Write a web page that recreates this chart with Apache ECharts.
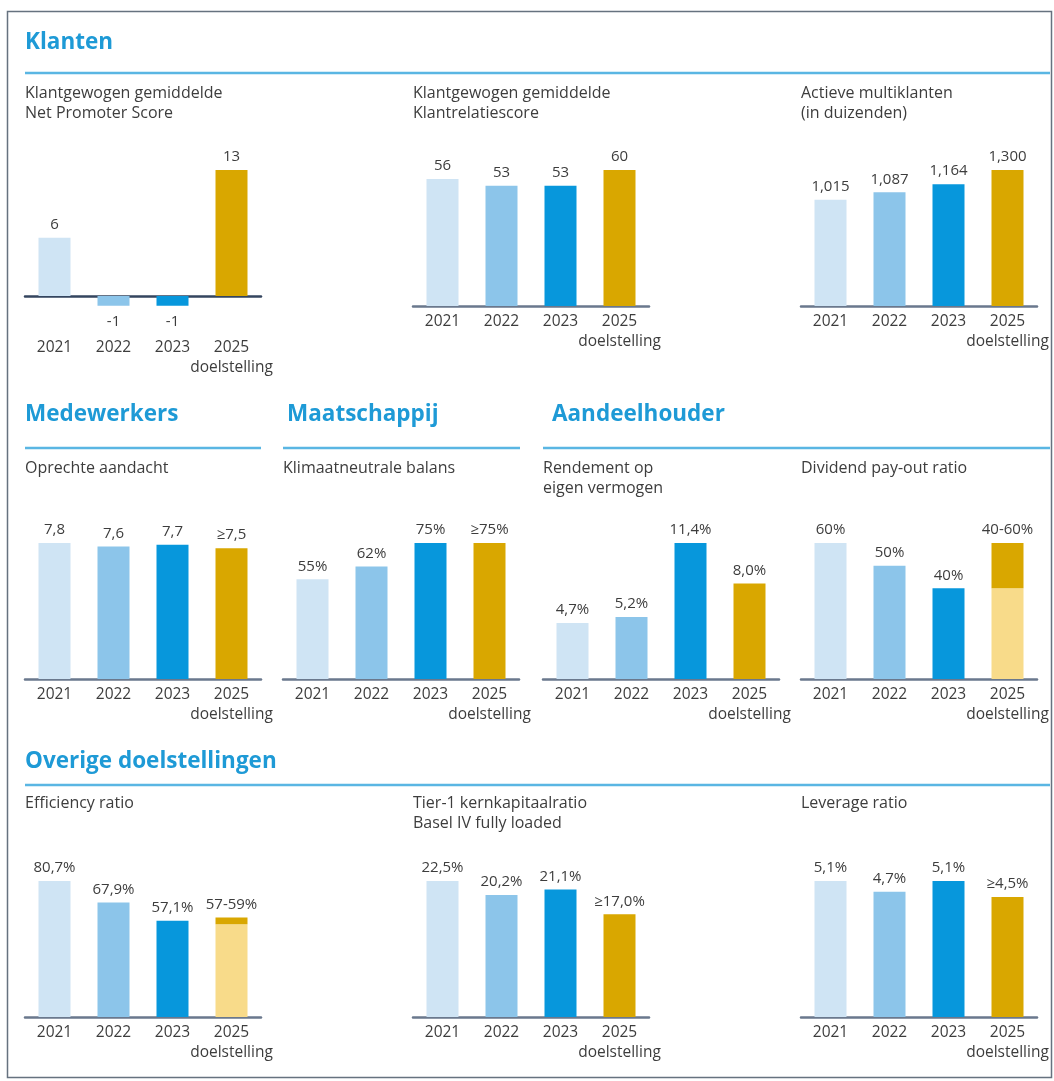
<!DOCTYPE html>
<html>
<head>
<meta charset="utf-8">
<script src="https://cdn.jsdelivr.net/npm/echarts@6/dist/echarts.min.js"></script>
<style>
html,body{margin:0;padding:0;background:#fff;}
#c{width:1054px;height:1081px;}
</style>
</head>
<body>
<div id="c"></div>
<script>
// ---- data ----
const years = ['2021', '2022', '2023', '2025\ndoelstelling'];

const npsValues = [6, -1, -1, 13];
const npsLabels = ['6', '-1', '-1', '13'];

const krsValues = [56, 53, 53, 60];
const krsLabels = ['56', '53', '53', '60'];

const multiValues = [1015, 1087, 1164, 1300];
const multiLabels = ['1,015', '1,087', '1,164', '1,300'];

const aandachtValues = [7.8, 7.6, 7.7, 7.5];
const aandachtLabels = ['7,8', '7,6', '7,7', '≥7,5'];

const klimaatValues = [55, 62, 75, 75];
const klimaatLabels = ['55%', '62%', '75%', '≥75%'];

const roeValues = [4.7, 5.2, 11.4, 8.0];
const roeLabels = ['4,7%', '5,2%', '11,4%', '8,0%'];

const dividendValues = [60, 50, 40, 40];
const dividendRange = [null, null, null, 20];
const dividendLabels = ['60%', '50%', '40%', '40-60%'];

const efficiencyValues = [80.7, 67.9, 57.1, 55];
const efficiencyRange = [null, null, null, 4];
const efficiencyLabels = ['80,7%', '67,9%', '57,1%', '57-59%'];

const tier1Values = [22.5, 20.2, 21.1, 17.0];
const tier1Labels = ['22,5%', '20,2%', '21,1%', '≥17,0%'];

const leverageValues = [5.1, 4.7, 5.1, 4.5];
const leverageLabels = ['5,1%', '4,7%', '5,1%', '≥4,5%'];

// ---- styling ----
const barColors = ['#cfe4f4', '#8cc5ea', '#0797dc', '#d9a700'];
const targetLight = '#f8db8a';
const FONT = '"Open Sans", "Noto Sans", sans-serif';
const TXT = '#3d3d3d';
const BLUE = '#1e9ad6';

const charts = [
  {vals: npsValues, labels: npsLabels, left: 25, top: 170, height: 135.7, min: -1, axisColor: '#34455f', labelMargin: 32},
  {vals: krsValues, labels: krsLabels, left: 413, top: 170, height: 136},
  {vals: multiValues, labels: multiLabels, left: 801, top: 170, height: 136},
  {vals: aandachtValues, labels: aandachtLabels, left: 25, top: 543, height: 136},
  {vals: klimaatValues, labels: klimaatLabels, left: 283, top: 543, height: 136},
  {vals: roeValues, labels: roeLabels, left: 543, top: 543, height: 136},
  {vals: dividendValues, range: dividendRange, labels: dividendLabels, left: 801, top: 543, height: 136},
  {vals: efficiencyValues, range: efficiencyRange, labels: efficiencyLabels, left: 25, top: 881, height: 136},
  {vals: tier1Values, labels: tier1Labels, left: 413, top: 881, height: 136},
  {vals: leverageValues, labels: leverageLabels, left: 801, top: 881, height: 136}
];

const grid = [], xAxis = [], yAxis = [], series = [];
charts.forEach((c, i) => {
  grid.push({left: c.left, top: c.top, width: 236, height: c.height, containLabel: false});
  const tops = c.vals.map((v, k) => v + ((c.range && c.range[k]) || 0));
  xAxis.push({
    type: 'category', gridIndex: i, data: years,
    axisTick: {show: false},
    axisLine: {show: true, onZero: true, lineStyle: {color: c.axisColor || '#6a788d', width: 2.5}},
    axisLabel: {interval: 0, color: TXT, fontFamily: FONT, fontSize: 15.5, lineHeight: 20, margin: c.labelMargin || 6}
  });
  yAxis.push({
    type: 'value', gridIndex: i, show: false,
    min: c.min !== undefined ? c.min : 0, max: Math.max.apply(null, tops),
    splitLine: {show: false}
  });
  const hasRange = !!c.range;
  series.push({
    type: 'bar', xAxisIndex: i, yAxisIndex: i, barWidth: 32, stack: 's' + i,
    data: c.vals.map((v, k) => ({
      value: v,
      itemStyle: {color: (hasRange && c.range[k] != null) ? targetLight : barColors[k]},
      label: {
        show: !(hasRange && c.range[k] != null),
        position: v < 0 ? 'bottom' : 'top',
        distance: v < 0 ? 7 : 4,
        formatter: c.labels[k]
      }
    })),
    label: {color: TXT, fontFamily: FONT, fontSize: 15, lineHeight: 18},
    silent: true
  });
  if (hasRange) {
    series.push({
      type: 'bar', xAxisIndex: i, yAxisIndex: i, barWidth: 32, stack: 's' + i,
      data: c.range.map((v, k) => ({
        value: v,
        itemStyle: {color: barColors[3]},
        label: {show: v != null, position: 'top', distance: 4, formatter: c.labels[k]}
      })),
      label: {color: TXT, fontFamily: FONT, fontSize: 15, lineHeight: 18},
      silent: true
    });
  }
});

const sectionStyle = {color: BLUE, fontFamily: FONT, fontSize: 22.5, fontWeight: 'bold', lineHeight: 26};
const subStyle = {color: TXT, fontFamily: FONT, fontSize: 16, fontWeight: 'normal', lineHeight: 20};

const title = [
  {text: 'Klanten', left: 25, top: 30, padding: 0, textStyle: sectionStyle},
  {text: 'Medewerkers', left: 25, top: 402, padding: 0, textStyle: sectionStyle},
  {text: 'Maatschappij', left: 287, top: 402, padding: 0, textStyle: sectionStyle},
  {text: 'Aandeelhouder', left: 552, top: 402, padding: 0, textStyle: sectionStyle},
  {text: 'Overige doelstellingen', left: 25, top: 749, padding: 0, textStyle: sectionStyle},
  {text: 'Klantgewogen gemiddelde\nNet Promoter Score', left: 25, top: 83, padding: 0, textStyle: subStyle},
  {text: 'Klantgewogen gemiddelde\nKlantrelatiescore', left: 413, top: 83, padding: 0, textStyle: subStyle},
  {text: 'Actieve multiklanten\n(in duizenden)', left: 801, top: 83, padding: 0, textStyle: subStyle},
  {text: 'Oprechte aandacht', left: 25, top: 458, padding: 0, textStyle: subStyle},
  {text: 'Klimaatneutrale balans', left: 283, top: 458, padding: 0, textStyle: subStyle},
  {text: 'Rendement op\neigen vermogen', left: 543, top: 458, padding: 0, textStyle: subStyle},
  {text: 'Dividend pay-out ratio', left: 801, top: 458, padding: 0, textStyle: subStyle},
  {text: 'Efficiency ratio', left: 25, top: 793, padding: 0, textStyle: subStyle},
  {text: 'Tier-1 kernkapitaalratio\nBasel IV fully loaded', left: 413, top: 793, padding: 0, textStyle: subStyle},
  {text: 'Leverage ratio', left: 801, top: 793, padding: 0, textStyle: subStyle}
];

const lineStyle = {stroke: '#5ab6e3', lineWidth: 2.5};
const graphic = [
  {type: 'rect', shape: {x: 7.5, y: 11.5, width: 1044, height: 1066}, style: {fill: 'none', stroke: '#66727f', lineWidth: 1.5}, silent: true},
  {type: 'line', shape: {x1: 25, y1: 73, x2: 1050, y2: 73}, style: lineStyle, silent: true},
  {type: 'line', shape: {x1: 25, y1: 448, x2: 261, y2: 448}, style: lineStyle, silent: true},
  {type: 'line', shape: {x1: 283, y1: 448, x2: 520, y2: 448}, style: lineStyle, silent: true},
  {type: 'line', shape: {x1: 543, y1: 448, x2: 1050, y2: 448}, style: lineStyle, silent: true},
  {type: 'line', shape: {x1: 25, y1: 785, x2: 1050, y2: 785}, style: lineStyle, silent: true}
];

const chart = echarts.init(document.getElementById('c'), null, {renderer: 'canvas'});
chart.setOption({
  animation: false,
  backgroundColor: '#ffffff',
  title, grid, xAxis, yAxis, series, graphic
});
</script>
</body>
</html>
